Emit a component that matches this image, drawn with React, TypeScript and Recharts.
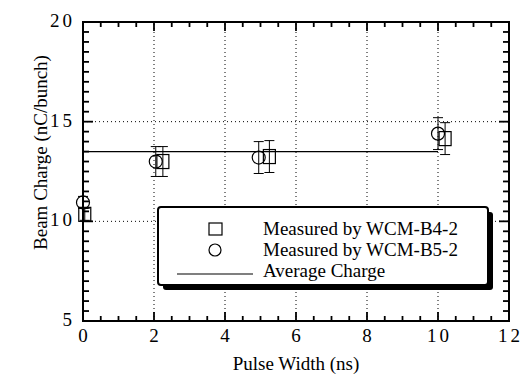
import React from 'react';
import { ScatterChart, Scatter, XAxis, YAxis, ErrorBar, ReferenceLine, ReferenceArea, Label } from 'recharts';

// WCM-B4-2 (squares)
const b4X = [0.05, 2.25, 5.25, 10.2];
const b4Y = [10.35, 13.0, 13.25, 14.15];
const b4Err = [0.3, 0.75, 0.8, 0.8];
// WCM-B5-2 (circles)
const b5X = [0.0, 2.05, 4.95, 10.0];
const b5Y = [10.95, 13.0, 13.2, 14.4];
const b5Err = [0.3, 0.75, 0.8, 0.8];

const AVERAGE = 13.5;
const AVG_FROM = 0;
const AVG_TO = 10;

const X_DOMAIN = [0, 12];
const Y_DOMAIN = [5, 20];
const MAJOR_X = [0, 2, 4, 6, 8, 10, 12];
const MAJOR_Y = [5, 10, 15, 20];
const GRID_X = [2, 4, 6, 8, 10];
const GRID_Y = [10, 15];
const LEGEND_LABELS = ['Measured by WCM-B4-2', 'Measured by WCM-B5-2', 'Average Charge'];

const halfSteps = (from: number, to: number) => {
  const out: number[] = [];
  for (let v = from; v <= to + 1e-9; v += 0.5) out.push(Math.round(v * 10) / 10);
  return out;
};
const TICKS_X = halfSteps(X_DOMAIN[0], X_DOMAIN[1]);
const TICKS_Y = halfSteps(Y_DOMAIN[0], Y_DOMAIN[1]);

const b4Data = b4X.map((x, i) => ({ x, y: b4Y[i], err: b4Err[i] }));
const b5Data = b5X.map((x, i) => ({ x, y: b5Y[i], err: b5Err[i] }));

// inward tick marks on all four sides, placed through the chart scales
const tickMarks = [
  ...TICKS_X.map((v) => ({ x: v, y: Y_DOMAIN[0], side: 'bottom', major: MAJOR_X.includes(v) })),
  ...TICKS_X.map((v) => ({ x: v, y: Y_DOMAIN[1], side: 'top', major: MAJOR_X.includes(v) })),
  ...TICKS_Y.map((v) => ({ x: X_DOMAIN[0], y: v, side: 'left', major: MAJOR_Y.includes(v) })),
  ...TICKS_Y.map((v) => ({ x: X_DOMAIN[1], y: v, side: 'right', major: MAJOR_Y.includes(v) })),
];

const W = 523;
const H = 376;
const MARGIN = { top: 22, right: 14, bottom: 0, left: 0 };

const FONT = '"Liberation Serif", "Times New Roman", serif';
const TICK_FS = 19;
const INK = '#000';

const TickMark = (props: any) => {
  const { cx, cy, payload } = props;
  const len = payload.side === 'bottom' || payload.side === 'top' ? (payload.major ? 9 : 5) : payload.major ? 10 : 6;
  let x2 = cx;
  let y2 = cy;
  if (payload.side === 'bottom') y2 = cy - len;
  if (payload.side === 'top') y2 = cy + len;
  if (payload.side === 'left') x2 = cx + len;
  if (payload.side === 'right') x2 = cx - len;
  return <line x1={cx} y1={cy} x2={x2} y2={y2} stroke={INK} strokeWidth={1.8} />;
};

// labels only on major values
const BottomTick = (props: any) => {
  const { x, y, payload } = props;
  if (!MAJOR_X.includes(payload.value)) return <g />;
  return (
    <text x={x + 1.5} y={y + 21} textAnchor="middle" fontSize={TICK_FS} letterSpacing={3} fill={INK}>
      {String(payload.value)}
    </text>
  );
};
const LeftTick = (props: any) => {
  const { x, y, payload } = props;
  if (!MAJOR_Y.includes(payload.value)) return <g />;
  return (
    <text x={x - 8} y={y + 5} textAnchor="end" fontSize={TICK_FS} letterSpacing={3} fill={INK}>
      {String(payload.value)}
    </text>
  );
};

const Square = (props: any) => {
  const { cx, cy } = props;
  return <rect x={cx - 6} y={cy - 7} width={12} height={14} fill="none" stroke={INK} strokeWidth={1.2} />;
};
const Circle = (props: any) => {
  const { cx, cy } = props;
  return <circle cx={cx} cy={cy} r={6.5} fill="none" stroke={INK} strokeWidth={1.2} />;
};

const YTitle = (props: any) => {
  const { viewBox } = props;
  const cx = 40;
  const cy = viewBox.y + viewBox.height / 2 - 19;
  return (
    <text x={cx} y={cy} transform={`rotate(-90, ${cx}, ${cy})`} textAnchor="middle" dominantBaseline="central" fontSize={19} fill={INK}>
      Beam Charge (nC/bunch)
    </text>
  );
};

const LegendBox = () => (
  <svg width={W} height={H} style={{ position: 'absolute', left: 0, top: 0, pointerEvents: 'none', fontFamily: FONT }}>
    <rect x={163} y={212} width={330} height={78} rx={3} fill={INK} />
    <rect x={158} y={207} width={330} height={78} rx={3} fill="#fff" stroke={INK} strokeWidth={2} />
    <rect x={209} y={223} width={13} height={12} fill="none" stroke={INK} strokeWidth={1.2} />
    <circle cx={215} cy={250} r={6} fill="none" stroke={INK} strokeWidth={1.2} />
    <line x1={177} y1={274} x2={253} y2={274} stroke={INK} strokeWidth={1.2} />
    {LEGEND_LABELS.map((t, i) => (
      <text key={t} x={263} y={235 + i * 21} fontSize={19} fill={INK}>
        {t}
      </text>
    ))}
  </svg>
);

export default function App() {
  const [y0, y1] = Y_DOMAIN;
  const [x0, x1] = X_DOMAIN;
  return (
    <div style={{ position: 'absolute', left: 0, top: 0, width: W, height: H, background: '#fff', fontFamily: FONT }}>
      <ScatterChart width={W} height={H} margin={MARGIN}>
        <XAxis
          dataKey="x"
          type="number"
          domain={X_DOMAIN}
          ticks={TICKS_X}
          interval={0}
          height={55}
          tickSize={0}
          tickMargin={0}
          tickLine={false}
          tick={<BottomTick />}
          axisLine={false}
        >
          <Label value="Pulse Width (ns)" position="insideBottom" offset={6} fontSize={19} fill={INK} />
        </XAxis>
        <YAxis
          dataKey="y"
          type="number"
          domain={Y_DOMAIN}
          ticks={TICKS_Y}
          interval={0}
          width={83}
          tickSize={0}
          tickMargin={0}
          tickLine={false}
          tick={<LeftTick />}
          axisLine={false}
        >
          <Label content={<YTitle />} />
        </YAxis>
        {GRID_X.map((v) => (
          <ReferenceLine key={`gx${v}`} x={v} stroke={INK} strokeWidth={1} strokeDasharray="1 3" />
        ))}
        {GRID_Y.map((v) => (
          <ReferenceLine key={`gy${v}`} y={v} stroke={INK} strokeWidth={1} strokeDasharray="1 3" />
        ))}
        <ReferenceArea x1={x0} x2={x1} y1={y0} y2={y1} fill="none" fillOpacity={0} stroke={INK} strokeWidth={2} />
        <ReferenceLine
          segment={[
            { x: AVG_FROM, y: AVERAGE },
            { x: AVG_TO, y: AVERAGE },
          ]}
          stroke={INK}
          strokeWidth={1.3}
        />
        <Scatter name="ticks" data={tickMarks} shape={<TickMark />} legendType="none" isAnimationActive={false} />
        <Scatter name="Measured by WCM-B4-2" data={b4Data} shape={<Square />} isAnimationActive={false}>
          <ErrorBar dataKey="err" direction="y" width={5} stroke={INK} strokeWidth={1} />
        </Scatter>
        <Scatter name="Measured by WCM-B5-2" data={b5Data} shape={<Circle />} isAnimationActive={false}>
          <ErrorBar dataKey="err" direction="y" width={5} stroke={INK} strokeWidth={1} />
        </Scatter>
      </ScatterChart>
      <LegendBox />
    </div>
  );
}
